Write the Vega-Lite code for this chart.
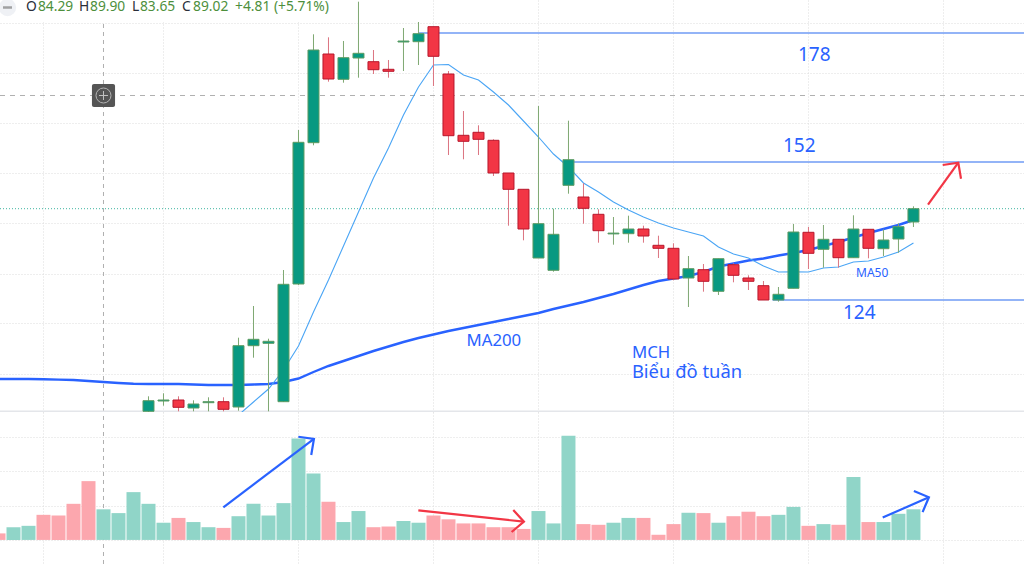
{
  "$schema": "https://vega.github.io/schema/vega-lite/v6.json",
  "background": "white",
  "padding": 0,
  "spacing": 0,
  "config": {
    "view": {"stroke": null},
    "font": "Noto Sans",
    "concat": {"spacing": 0}
  },
  "datasets": {
    "crosshairV": [{"week":7,"low":102.3,"high":184.7}],
    "crosshairVol": [{"week":7,"low":-0.7,"high":3.72}],
    "crosshairH": [{"start":0.1,"end":68.37,"price":165.6}],
    "lastPrice": [{"start":0.1,"end":68.37,"price":142.96}],
    "separator": [{"start":0.1,"end":68.37,"price":102.4}],
    "headerMask": [{"start":0.1,"end":22,"low":180.3,"high":184.7}],
    "crossBox": [{"start":6.23,"end":7.77,"low":163.3,"high":167.9}],
    "crossCentre": [{"week":7,"price":165.6}],
    "menuIcon": [{"week":0.6,"price":183.2}],
    "candles": [
      {"week":10,"open":102.44,"high":105.44,"low":102.3,"close":104.56,"dir":"up"},
      {"week":11,"open":104.5,"high":106.04,"low":103.56,"close":104.7,"dir":"up"},
      {"week":12,"open":104.7,"high":105.44,"low":102.44,"close":103.24,"dir":"down"},
      {"week":13,"open":103.1,"high":104.64,"low":102.44,"close":103.9,"dir":"up"},
      {"week":14,"open":104.16,"high":105.24,"low":102.44,"close":104.36,"dir":"up"},
      {"week":15,"open":104.36,"high":105.24,"low":102.44,"close":102.84,"dir":"down"},
      {"week":16,"open":103.3,"high":117.16,"low":102.56,"close":115.56,"dir":"up"},
      {"week":17,"open":115.56,"high":123.5,"low":113.16,"close":116.84,"dir":"up"},
      {"week":18,"open":116.04,"high":116.96,"low":102.44,"close":116.44,"dir":"up"},
      {"week":19,"open":104.36,"high":130.7,"low":104.3,"close":127.84,"dir":"up"},
      {"week":20,"open":127.9,"high":158.7,"low":127.7,"close":156.24,"dir":"up"},
      {"week":21,"open":156.16,"high":177.84,"low":155.64,"close":174.7,"dir":"up"},
      {"week":22,"open":173.9,"high":177.24,"low":168.36,"close":168.9,"dir":"down"},
      {"week":23,"open":168.84,"high":176.5,"low":168.16,"close":173.16,"dir":"up"},
      {"week":24,"open":173.1,"high":184.36,"low":169.16,"close":174.04,"dir":"up"},
      {"week":25,"open":172.36,"high":174.7,"low":169.9,"close":170.76,"dir":"down"},
      {"week":26,"open":170.84,"high":172.7,"low":169.16,"close":170.44,"dir":"down"},
      {"week":27,"open":176.3,"high":179.1,"low":170.5,"close":176.5,"dir":"up"},
      {"week":28,"open":176.36,"high":180.3,"low":171.7,"close":177.96,"dir":"up"},
      {"week":29,"open":179.36,"high":179.36,"low":167.5,"close":173.44,"dir":"down"},
      {"week":30,"open":169.9,"high":170.5,"low":153.7,"close":157.56,"dir":"down"},
      {"week":31,"open":157.64,"high":162.5,"low":152.84,"close":156.44,"dir":"down"},
      {"week":32,"open":158.24,"high":159.64,"low":153.7,"close":156.84,"dir":"down"},
      {"week":33,"open":156.64,"high":156.84,"low":149.5,"close":150.1,"dir":"down"},
      {"week":34,"open":150.1,"high":150.1,"low":139.56,"close":146.84,"dir":"down"},
      {"week":35,"open":146.84,"high":146.84,"low":136.64,"close":138.9,"dir":"down"},
      {"week":36,"open":133.1,"high":163.5,"low":133.1,"close":139.96,"dir":"up"},
      {"week":37,"open":130.64,"high":142.96,"low":130.36,"close":137.84,"dir":"up"},
      {"week":38,"open":147.64,"high":160.56,"low":145.96,"close":152.76,"dir":"up"},
      {"week":39,"open":145.3,"high":148.04,"low":139.96,"close":143.04,"dir":"down"},
      {"week":40,"open":141.84,"high":142.84,"low":136.16,"close":138.56,"dir":"down"},
      {"week":41,"open":137.92,"high":141.3,"low":135.76,"close":138.08,"dir":"up"},
      {"week":42,"open":137.96,"high":141.56,"low":136.16,"close":138.9,"dir":"up"},
      {"week":43,"open":138.9,"high":139.56,"low":136.16,"close":137.5,"dir":"down"},
      {"week":44,"open":135.64,"high":137.56,"low":133.1,"close":135.04,"dir":"down"},
      {"week":45,"open":135.04,"high":136.04,"low":128.64,"close":128.9,"dir":"down"},
      {"week":46,"open":129.1,"high":133.5,"low":123.3,"close":130.96,"dir":"up"},
      {"week":47,"open":130.76,"high":131.9,"low":126.36,"close":128.44,"dir":"down"},
      {"week":48,"open":126.44,"high":132.96,"low":125.7,"close":132.96,"dir":"up"},
      {"week":49,"open":131.76,"high":132.04,"low":128.24,"close":129.64,"dir":"down"},
      {"week":50,"open":129.1,"high":129.64,"low":126.7,"close":128.44,"dir":"down"},
      {"week":51,"open":127.56,"high":128.5,"low":124.7,"close":124.7,"dir":"down"},
      {"week":52,"open":124.7,"high":127.3,"low":124.36,"close":125.84,"dir":"up"},
      {"week":53,"open":127.04,"high":139.9,"low":127.04,"close":138.3,"dir":"up"},
      {"week":54,"open":138.24,"high":139.3,"low":130.9,"close":134.04,"dir":"down"},
      {"week":55,"open":134.84,"high":139.7,"low":131.16,"close":136.84,"dir":"up"},
      {"week":56,"open":136.84,"high":136.84,"low":131.16,"close":133.16,"dir":"down"},
      {"week":57,"open":133.16,"high":141.64,"low":133.16,"close":138.9,"dir":"up"},
      {"week":58,"open":138.84,"high":138.84,"low":133.04,"close":135.04,"dir":"down"},
      {"week":59,"open":134.96,"high":138.84,"low":133.5,"close":136.7,"dir":"up"},
      {"week":60,"open":136.9,"high":140.04,"low":134.16,"close":139.36,"dir":"up"},
      {"week":61,"open":140.3,"high":143.44,"low":139.3,"close":142.96,"dir":"up"}
    ],
    "ma": [
      {"week":0,"ma200":108.9},{"week":1,"ma200":108.9},{"week":2,"ma200":108.9},{"week":3,"ma200":108.84},
      {"week":4,"ma200":108.78},{"week":5,"ma200":108.7},{"week":6,"ma200":108.5},{"week":7,"ma200":108.3},
      {"week":8,"ma200":108.1},{"week":9,"ma200":107.96},{"week":10,"ma200":107.9},{"week":11,"ma200":107.9},
      {"week":12,"ma200":107.9},{"week":13,"ma200":107.8},{"week":14,"ma200":107.7},{"week":15,"ma200":107.7},
      {"week":16,"ma200":107.7,"ma50":101.7},{"week":17,"ma200":107.8,"ma50":104.3},{"week":18,"ma200":107.9,"ma50":106.9},
      {"week":19,"ma200":108.3,"ma50":110.7},{"week":20,"ma200":109.0,"ma50":115.5},{"week":21,"ma200":110.3,"ma50":122.3},
      {"week":22,"ma200":111.5,"ma50":128.7},{"week":23,"ma200":112.5,"ma50":135.5},{"week":24,"ma200":113.5,"ma50":142.3},
      {"week":25,"ma200":114.5,"ma50":149.1},{"week":26,"ma200":115.4,"ma50":155.1},{"week":27,"ma200":116.3,"ma50":161.7},
      {"week":28,"ma200":117.1,"ma50":167.3},{"week":29,"ma200":117.8,"ma50":171.7},{"week":30,"ma200":118.5,"ma50":171.8},
      {"week":31,"ma200":119.1,"ma50":169.7},{"week":32,"ma200":119.7,"ma50":168.7},{"week":33,"ma200":120.3,"ma50":166.3},
      {"week":34,"ma200":120.9,"ma50":163.7},{"week":35,"ma200":121.5,"ma50":160.5},{"week":36,"ma200":122.1,"ma50":157.3},
      {"week":37,"ma200":122.9,"ma50":153.9},{"week":38,"ma200":123.6,"ma50":151.3},{"week":39,"ma200":124.3,"ma50":148.1},
      {"week":40,"ma200":125.1,"ma50":146.3},{"week":41,"ma200":125.9,"ma50":144.3},{"week":42,"ma200":126.8,"ma50":142.7},
      {"week":43,"ma200":127.7,"ma50":141.3},{"week":44,"ma200":128.5,"ma50":140.1},{"week":45,"ma200":129.0,"ma50":139.1},
      {"week":46,"ma200":129.5,"ma50":138.3},{"week":47,"ma200":130.3,"ma50":137.5},{"week":48,"ma200":131.4,"ma50":135.3},
      {"week":49,"ma200":132.0,"ma50":133.9},{"week":50,"ma200":132.6,"ma50":133.1},{"week":51,"ma200":133.0,"ma50":131.5},
      {"week":52,"ma200":133.6,"ma50":130.3},{"week":53,"ma200":134.1,"ma50":130.36},{"week":54,"ma200":134.7,"ma50":130.3},
      {"week":55,"ma200":135.5,"ma50":131.1},{"week":56,"ma200":136.3,"ma50":131.3},{"week":57,"ma200":137.2,"ma50":132.3},
      {"week":58,"ma200":138.1,"ma50":132.5},{"week":59,"ma200":138.9,"ma50":133.3},{"week":60,"ma200":139.7,"ma50":134.3},
      {"week":61,"ma200":140.7,"ma50":136.1}
    ],
    "levels": [
      {"start":28,"end":68.37,"price":178.1},
      {"start":38,"end":68.37,"price":152.3},
      {"start":51.6,"end":68.37,"price":124.7}
    ],
    "notes": [
      {"week":53.3,"price":173.7,"text":"178","kind":"level"},
      {"week":52.3,"price":155.5,"text":"152","kind":"level"},
      {"week":56.3,"price":122.1,"text":"124","kind":"level"},
      {"week":31.2,"price":116.5,"text":"MA200","kind":"label"},
      {"week":57.17,"price":130.1,"text":"MA50","kind":"ma50"},
      {"week":42.23,"price":114.1,"text":"MCH","kind":"label"},
      {"week":42.23,"price":110.3,"text":"Biểu đồ tuần","kind":"note"}
    ],
    "header": [
      {"week":1.83,"price":183.3,"text":"O","part":"key"},
      {"week":2.63,"price":183.3,"text":"84.29","part":"value"},
      {"week":5.37,"price":183.3,"text":"H","part":"key"},
      {"week":6.1,"price":183.3,"text":"89.90","part":"value"},
      {"week":8.9,"price":183.3,"text":"L","part":"key"},
      {"week":9.43,"price":183.3,"text":"83.65","part":"value"},
      {"week":12.23,"price":183.3,"text":"C","part":"key"},
      {"week":12.97,"price":183.3,"text":"89.02","part":"value"},
      {"week":15.77,"price":183.3,"text":"+4.81 (+5.71%)","part":"value"}
    ],
    "priceArrow": [
      {"stroke":"shaft","step":1,"week":61.97,"price":143.76},
      {"stroke":"shaft","step":2,"week":63.99,"price":152.16},
      {"stroke":"head","step":1,"week":62.95,"price":151.7},
      {"stroke":"head","step":2,"week":63.99,"price":152.16},
      {"stroke":"head","step":3,"week":64.17,"price":148.96}
    ],
    "volumes": [
      {"week":0,"volume":0.19,"dir":"down"},{"week":1,"volume":0.37,"dir":"up"},{"week":2,"volume":0.41,"dir":"up"},
      {"week":3,"volume":0.73,"dir":"down"},{"week":4,"volume":0.71,"dir":"down"},{"week":5,"volume":1.05,"dir":"down"},
      {"week":6,"volume":1.71,"dir":"down"},{"week":7,"volume":0.89,"dir":"up"},{"week":8,"volume":0.78,"dir":"up"},
      {"week":9,"volume":1.39,"dir":"up"},{"week":10,"volume":1.05,"dir":"up"},{"week":11,"volume":0.5,"dir":"up"},
      {"week":12,"volume":0.64,"dir":"down"},{"week":13,"volume":0.52,"dir":"up"},{"week":14,"volume":0.37,"dir":"up"},
      {"week":15,"volume":0.35,"dir":"down"},{"week":16,"volume":0.69,"dir":"up"},{"week":17,"volume":1.05,"dir":"up"},
      {"week":18,"volume":0.71,"dir":"up"},{"week":19,"volume":1.07,"dir":"up"},{"week":20,"volume":2.95,"dir":"up"},
      {"week":21,"volume":1.93,"dir":"up"},{"week":22,"volume":1.11,"dir":"down"},{"week":23,"volume":0.52,"dir":"up"},
      {"week":24,"volume":0.84,"dir":"up"},{"week":25,"volume":0.37,"dir":"down"},{"week":26,"volume":0.39,"dir":"down"},
      {"week":27,"volume":0.55,"dir":"up"},{"week":28,"volume":0.5,"dir":"up"},{"week":29,"volume":0.71,"dir":"down"},
      {"week":30,"volume":0.6,"dir":"down"},{"week":31,"volume":0.48,"dir":"down"},{"week":32,"volume":0.48,"dir":"down"},
      {"week":33,"volume":0.37,"dir":"down"},{"week":34,"volume":0.37,"dir":"down"},{"week":35,"volume":0.32,"dir":"down"},
      {"week":36,"volume":0.84,"dir":"up"},{"week":37,"volume":0.48,"dir":"up"},{"week":38,"volume":3.03,"dir":"up"},
      {"week":39,"volume":0.46,"dir":"down"},{"week":40,"volume":0.44,"dir":"down"},{"week":41,"volume":0.5,"dir":"up"},
      {"week":42,"volume":0.64,"dir":"up"},{"week":43,"volume":0.64,"dir":"down"},{"week":44,"volume":0.15,"dir":"down"},
      {"week":45,"volume":0.46,"dir":"down"},{"week":46,"volume":0.79,"dir":"up"},{"week":47,"volume":0.78,"dir":"down"},
      {"week":48,"volume":0.5,"dir":"up"},{"week":49,"volume":0.69,"dir":"down"},{"week":50,"volume":0.82,"dir":"down"},
      {"week":51,"volume":0.69,"dir":"down"},{"week":52,"volume":0.73,"dir":"up"},{"week":53,"volume":0.96,"dir":"up"},
      {"week":54,"volume":0.41,"dir":"down"},{"week":55,"volume":0.46,"dir":"up"},{"week":56,"volume":0.44,"dir":"down"},
      {"week":57,"volume":1.83,"dir":"up"},{"week":58,"volume":0.52,"dir":"down"},{"week":59,"volume":0.52,"dir":"up"},
      {"week":60,"volume":0.76,"dir":"up"},{"week":61,"volume":0.89,"dir":"up"}
    ],
    "volumeArrows": [
      {"arrow":"a1","color":"blue","stroke":"shaft","step":1,"week":14.99,"volume":0.95},
      {"arrow":"a1","color":"blue","stroke":"shaft","step":2,"week":21.03,"volume":2.94},
      {"arrow":"a1","color":"blue","stroke":"head","step":1,"week":19.99,"volume":3.0},
      {"arrow":"a1","color":"blue","stroke":"head","step":2,"week":21.03,"volume":2.94},
      {"arrow":"a1","color":"blue","stroke":"head","step":3,"week":20.85,"volume":2.47},
      {"arrow":"a2","color":"red","stroke":"shaft","step":1,"week":27.99,"volume":0.86},
      {"arrow":"a2","color":"red","stroke":"shaft","step":2,"week":35.03,"volume":0.53},
      {"arrow":"a2","color":"red","stroke":"head","step":1,"week":34.32,"volume":0.87},
      {"arrow":"a2","color":"red","stroke":"head","step":2,"week":35.03,"volume":0.53},
      {"arrow":"a2","color":"red","stroke":"head","step":3,"week":34.21,"volume":0.23},
      {"arrow":"a3","color":"blue","stroke":"shaft","step":1,"week":58.95,"volume":0.65},
      {"arrow":"a3","color":"blue","stroke":"shaft","step":2,"week":62.03,"volume":1.24},
      {"arrow":"a3","color":"blue","stroke":"head","step":1,"week":61.03,"volume":1.42},
      {"arrow":"a3","color":"blue","stroke":"head","step":2,"week":62.03,"volume":1.24},
      {"arrow":"a3","color":"blue","stroke":"head","step":3,"week":61.61,"volume":0.81}
    ]
  },
  "vconcat": [
    {
      "width": 1024,
      "height": 412,
      "encoding": {
        "x": {
          "field": "week",
          "type": "quantitative",
          "scale": {"domain": [0.1, 68.37], "nice": false, "zero": false, "padding": 0},
          "axis": {"title": null, "labels": false, "ticks": false, "domain": false, "grid": true, "gridColor": "#dcdcdc", "gridDash": [1, 2], "values": [3, 11, 20, 29, 36, 45, 54, 63]}
        },
        "y": {
          "field": "price",
          "type": "quantitative",
          "scale": {"domain": [102.3, 184.7], "nice": false, "zero": false, "padding": 0},
          "axis": {"title": null, "labels": false, "ticks": false, "domain": false, "grid": true, "gridColor": "#dcdcdc", "gridDash": [1, 2], "values": [110, 120, 130, 140, 150, 160, 170, 180]}
        }
      },
      "layer": [
        {
          "data": {"name": "crosshairV"},
          "mark": {"type": "rule", "color": "#b0b0b0", "strokeDash": [4, 4], "strokeWidth": 1, "clip": true},
          "encoding": {"y": {"field": "low", "type": "quantitative"}, "y2": {"field": "high"}}
        },
        {
          "data": {"name": "crosshairH"},
          "mark": {"type": "rule", "color": "#b0b0b0", "strokeDash": [5, 5], "strokeWidth": 1, "clip": true},
          "encoding": {"x": {"field": "start", "type": "quantitative"}, "x2": {"field": "end"}}
        },
        {
          "data": {"name": "lastPrice"},
          "mark": {"type": "rule", "color": "#3fb5a0", "strokeDash": [1, 2], "strokeWidth": 1, "clip": true},
          "encoding": {"x": {"field": "start", "type": "quantitative"}, "x2": {"field": "end"}}
        },
        {
          "data": {"name": "separator"},
          "mark": {"type": "rule", "color": "#e4e6ea", "strokeWidth": 2, "clip": true},
          "encoding": {"x": {"field": "start", "type": "quantitative"}, "x2": {"field": "end"}}
        },
        {
          "data": {"name": "headerMask"},
          "mark": {"type": "rect", "fill": "white", "clip": true},
          "encoding": {"x": {"field": "start", "type": "quantitative"}, "x2": {"field": "end"}, "y": {"field": "low", "type": "quantitative"}, "y2": {"field": "high"}}
        },
        {
          "data": {"name": "levels"},
          "mark": {"type": "rule", "color": "#6f9bf5", "strokeWidth": 1.4, "clip": true},
          "encoding": {"x": {"field": "start", "type": "quantitative"}, "x2": {"field": "end"}}
        },
        {
          "data": {"name": "ma"},
          "mark": {"type": "line", "color": "#2962ff", "strokeWidth": 2.4, "clip": true},
          "encoding": {"y": {"field": "ma200", "type": "quantitative"}}
        },
        {
          "data": {"name": "ma"},
          "mark": {"type": "line", "color": "#4aa5f5", "strokeWidth": 1.1, "clip": true},
          "encoding": {"y": {"field": "ma50", "type": "quantitative"}}
        },
        {
          "data": {"name": "candles"},
          "mark": {"type": "rule", "strokeWidth": 1, "clip": true},
          "encoding": {
            "y": {"field": "low", "type": "quantitative"},
            "y2": {"field": "high"},
            "color": {"field": "dir", "type": "nominal", "legend": null, "scale": {"domain": ["up", "down"], "range": ["#7fa872", "#dc7480"]}}
          }
        },
        {
          "data": {"name": "candles"},
          "mark": {"type": "bar", "size": 11, "strokeWidth": 1, "clip": true},
          "encoding": {
            "y": {"field": "open", "type": "quantitative"},
            "y2": {"field": "close"},
            "fill": {"field": "dir", "type": "nominal", "legend": null, "scale": {"domain": ["up", "down"], "range": ["#089981", "#f23645"]}},
            "stroke": {"field": "dir", "type": "nominal", "legend": null, "scale": {"domain": ["up", "down"], "range": ["#5d9b62", "#b8172c"]}}
          }
        },
        {
          "data": {"name": "crossBox"},
          "mark": {"type": "rect", "fill": "#555555", "cornerRadius": 2},
          "encoding": {"x": {"field": "start", "type": "quantitative"}, "x2": {"field": "end"}, "y": {"field": "low", "type": "quantitative"}, "y2": {"field": "high"}}
        },
        {
          "data": {"name": "crossCentre"},
          "mark": {"type": "point", "shape": "circle", "filled": false, "stroke": "#dddddd", "strokeWidth": 1, "size": 225}
        },
        {
          "data": {"name": "crossCentre"},
          "mark": {"type": "point", "shape": "M-1,0H1M0,-1V1", "filled": false, "stroke": "#eeeeee", "strokeWidth": 1, "size": 81}
        },
        {
          "data": {"name": "notes"},
          "mark": {"type": "text", "align": "left", "baseline": "middle", "color": "#2962ff"},
          "encoding": {
            "text": {"field": "text"},
            "size": {"field": "kind", "type": "nominal", "legend": null, "scale": {"type": "ordinal", "domain": ["level", "label", "note", "ma50"], "range": [19, 16.8, 18.4, 12]}}
          }
        },
        {
          "data": {"name": "menuIcon"},
          "mark": {"type": "point", "shape": "circle", "filled": true, "fill": "#eff1f5", "opacity": 1, "size": 300, "clip": true}
        },
        {
          "data": {"name": "menuIcon"},
          "mark": {"type": "point", "shape": "M-1,0H1", "filled": false, "stroke": "#808080", "strokeWidth": 2.5, "size": 81, "clip": true}
        },
        {
          "data": {"name": "header"},
          "mark": {"type": "text", "align": "left", "baseline": "middle", "fontSize": 13.8, "clip": true},
          "encoding": {
            "text": {"field": "text"},
            "color": {"field": "part", "type": "nominal", "legend": null, "scale": {"domain": ["key", "value"], "range": ["#2a2e39", "#4d8f3c"]}}
          }
        },
        {
          "data": {"name": "priceArrow"},
          "mark": {"type": "line", "color": "#f23645", "strokeWidth": 2.2},
          "encoding": {"detail": {"field": "stroke"}, "order": {"field": "step"}}
        }
      ],
      "resolve": {"scale": {"color": "independent", "fill": "independent", "stroke": "independent"}}
    },
    {
      "width": 1024,
      "height": 152,
      "encoding": {
        "x": {
          "field": "week",
          "type": "quantitative",
          "scale": {"domain": [0.1, 68.37], "nice": false, "zero": false, "padding": 0},
          "axis": {"title": null, "labels": false, "ticks": false, "domain": false, "grid": true, "gridColor": "#dcdcdc", "gridDash": [1, 2], "values": [3, 11, 20, 29, 36, 45, 54, 63]}
        },
        "y": {
          "field": "volume",
          "type": "quantitative",
          "scale": {"domain": [-0.7, 3.72], "nice": false, "zero": false},
          "axis": {"title": null, "labels": false, "ticks": false, "domain": false, "grid": true, "gridColor": "#dcdcdc", "gridDash": [1, 2], "values": [0, 1, 2, 3]}
        }
      },
      "layer": [
        {
          "data": {"name": "crosshairVol"},
          "mark": {"type": "rule", "color": "#b0b0b0", "strokeDash": [4, 4], "strokeWidth": 1, "clip": true},
          "encoding": {"y": {"field": "low", "type": "quantitative"}, "y2": {"field": "high"}}
        },
        {
          "data": {"name": "volumes"},
          "mark": {"type": "bar", "size": 14, "clip": true},
          "encoding": {
            "y2": {"datum": 0},
            "color": {"field": "dir", "type": "nominal", "legend": null, "scale": {"domain": ["up", "down"], "range": ["#90d5c8", "#fca7ae"]}}
          }
        },
        {
          "data": {"name": "volumeArrows"},
          "mark": {"type": "line", "strokeWidth": 2.2},
          "encoding": {
            "detail": [{"field": "arrow"}, {"field": "stroke"}],
            "order": {"field": "step"},
            "color": {"field": "color", "type": "nominal", "legend": null, "scale": {"domain": ["blue", "red"], "range": ["#2962ff", "#f23645"]}}
          }
        }
      ],
      "resolve": {"scale": {"color": "independent"}}
    }
  ]
}
